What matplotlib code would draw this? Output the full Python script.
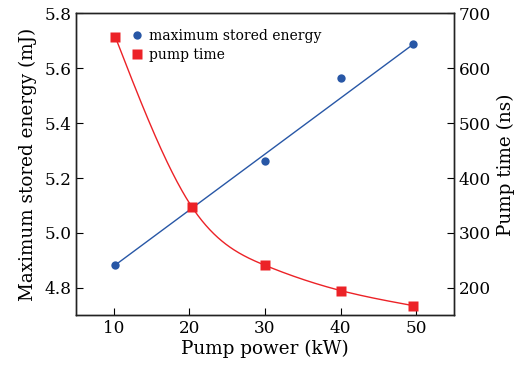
import numpy as np
import matplotlib
matplotlib.use("Agg")
import matplotlib.pyplot as plt
from matplotlib.lines import Line2D

# Data
pump_power = [10.2, 20.3, 30.0, 40.0, 49.6]
stored_energy = [4.883, 5.095, 5.262, 5.563, 5.687]
pump_time = [657.0, 348.0, 241.0, 195.0, 167.5]
x_ticks = [10, 20, 30, 40, 50]
left_ticks = [4.8, 5.0, 5.2, 5.4, 5.6, 5.8]
right_ticks = [200, 300, 400, 500, 600, 700]

BLUE = "#2857a6"
RED = "#ec2227"

plt.rcParams['font.family'] = ['DejaVu Serif']


def natural_spline(x, y, xs):
    x = np.asarray(x, float); y = np.asarray(y, float)
    n = len(x)
    h = np.diff(x)
    A = np.zeros((n, n)); b = np.zeros(n)
    A[0, 0] = 1; A[-1, -1] = 1
    for i in range(1, n - 1):
        A[i, i - 1] = h[i - 1]
        A[i, i] = 2 * (h[i - 1] + h[i])
        A[i, i + 1] = h[i]
        b[i] = 3 * ((y[i + 1] - y[i]) / h[i] - (y[i] - y[i - 1]) / h[i - 1])
    c = np.linalg.solve(A, b)
    out = np.empty_like(xs)
    for k, xv in enumerate(xs):
        i = min(max(np.searchsorted(x, xv) - 1, 0), n - 2)
        bi = (y[i + 1] - y[i]) / h[i] - h[i] * (2 * c[i] + c[i + 1]) / 3
        di = (c[i + 1] - c[i]) / (3 * h[i])
        t = xv - x[i]
        out[k] = y[i] + bi * t + c[i] * t ** 2 + di * t ** 3
    return out


fig = plt.figure(figsize=(5.17, 3.70), dpi=100)
ax = fig.add_axes([0.147, 0.148, 0.731, 0.816])
ax2 = ax.twinx()

# blue straight trend line (first to last point)
ax.plot([pump_power[0], pump_power[-1]], [stored_energy[0], stored_energy[-1]],
        color=BLUE, lw=1.0, zorder=2)
ax.plot(pump_power, stored_energy, 'o', color=BLUE, ms=6, mec='none', zorder=3)

# red smooth curve
xs = np.linspace(pump_power[0], pump_power[-1], 300)
ax2.plot(xs, natural_spline(pump_power, pump_time, xs), color=RED, lw=1.0, zorder=2)
ax2.plot(pump_power, pump_time, 's', color=RED, ms=6.5, mec='none', zorder=3)

ax.set_xlim(5, 55)
ax.set_ylim(4.7, 5.8)
ax2.set_ylim(150, 700)
ax.set_xticks(x_ticks)
ax.set_yticks(left_ticks)
ax.set_yticklabels([f"{v:.1f}" for v in left_ticks])
ax2.set_yticks(right_ticks)

fs = 12.2
ax.tick_params(axis='both', direction='in', length=5, width=0.8, labelsize=fs, top=False, right=False)
ax2.tick_params(axis='y', direction='in', length=5, width=0.8, labelsize=fs)
for a in (ax, ax2):
    for s in a.spines.values():
        s.set_linewidth(1.0)
        s.set_color('#222222')

lfs = 13.2
ax.set_xlabel("Pump power (kW)", fontsize=lfs, labelpad=2)
ax.set_ylabel("Maximum stored energy (mJ)", fontsize=lfs, labelpad=5)
ax2.set_ylabel("Pump time (ns)", fontsize=lfs, labelpad=4)

handles = [Line2D([], [], ls='none', marker='o', color=BLUE, ms=6, mec='none'),
           Line2D([], [], ls='none', marker='s', color=RED, ms=6.5, mec='none')]
leg = ax.legend(handles, ["maximum stored energy", "pump time"], loc='upper left',
                bbox_to_anchor=(0.105, 0.99), frameon=False, fontsize=10,
                handletextpad=0.3, handlelength=1.2, labelspacing=0.35)

fig.savefig("out.png", dpi=100)
